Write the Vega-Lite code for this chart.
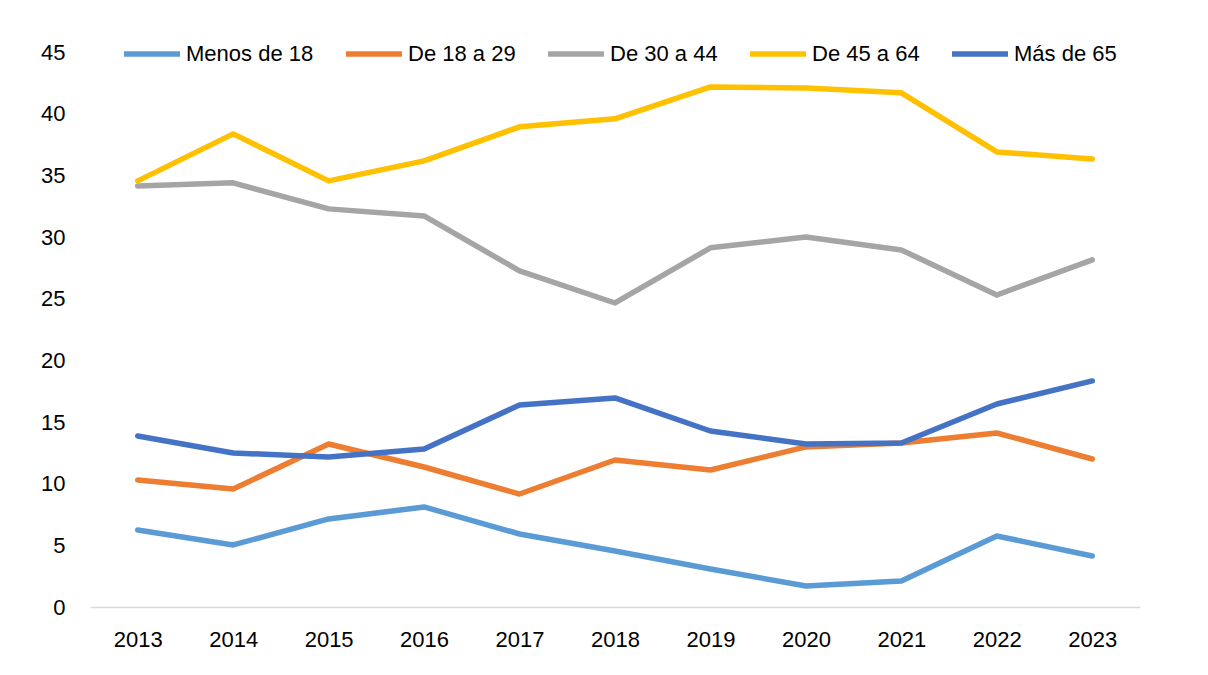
{
  "$schema": "https://vega.github.io/schema/vega-lite/v6.json",
  "autosize": {"type": "none"},
  "padding": {"left": 90, "top": 52, "right": 68, "bottom": 68},
  "width": 1050,
  "height": 555,
  "background": "white",
  "config": {
    "view": {"stroke": null},
    "font": "Liberation Sans",
    "axis": {"labelFont": "Liberation Sans", "labelColor": "#000000", "labelFontSize": 22},
    "legend": {"labelFont": "Liberation Sans", "labelColor": "#000000", "labelFontSize": 22}
  },
  "data": {
    "values": [
      {"year": "2013", "group": "Menos de 18", "value": 6.24},
      {"year": "2014", "group": "Menos de 18", "value": 5.03},
      {"year": "2015", "group": "Menos de 18", "value": 7.14},
      {"year": "2016", "group": "Menos de 18", "value": 8.11},
      {"year": "2017", "group": "Menos de 18", "value": 5.92},
      {"year": "2018", "group": "Menos de 18", "value": 4.54},
      {"year": "2019", "group": "Menos de 18", "value": 3.08},
      {"year": "2020", "group": "Menos de 18", "value": 1.7},
      {"year": "2021", "group": "Menos de 18", "value": 2.11},
      {"year": "2022", "group": "Menos de 18", "value": 5.76},
      {"year": "2023", "group": "Menos de 18", "value": 4.14},
      {"year": "2013", "group": "De 18 a 29", "value": 10.3},
      {"year": "2014", "group": "De 18 a 29", "value": 9.57},
      {"year": "2015", "group": "De 18 a 29", "value": 13.22},
      {"year": "2016", "group": "De 18 a 29", "value": 11.35},
      {"year": "2017", "group": "De 18 a 29", "value": 9.16},
      {"year": "2018", "group": "De 18 a 29", "value": 11.92},
      {"year": "2019", "group": "De 18 a 29", "value": 11.11},
      {"year": "2020", "group": "De 18 a 29", "value": 12.98},
      {"year": "2021", "group": "De 18 a 29", "value": 13.3},
      {"year": "2022", "group": "De 18 a 29", "value": 14.11},
      {"year": "2023", "group": "De 18 a 29", "value": 12.0},
      {"year": "2013", "group": "De 30 a 44", "value": 34.14},
      {"year": "2014", "group": "De 30 a 44", "value": 34.39},
      {"year": "2015", "group": "De 30 a 44", "value": 32.28},
      {"year": "2016", "group": "De 30 a 44", "value": 31.71},
      {"year": "2017", "group": "De 30 a 44", "value": 27.25},
      {"year": "2018", "group": "De 30 a 44", "value": 24.65},
      {"year": "2019", "group": "De 30 a 44", "value": 29.12},
      {"year": "2020", "group": "De 30 a 44", "value": 30.0},
      {"year": "2021", "group": "De 30 a 44", "value": 28.95},
      {"year": "2022", "group": "De 30 a 44", "value": 25.3},
      {"year": "2023", "group": "De 30 a 44", "value": 28.14},
      {"year": "2013", "group": "De 45 a 64", "value": 34.55},
      {"year": "2014", "group": "De 45 a 64", "value": 38.36},
      {"year": "2015", "group": "De 45 a 64", "value": 34.55},
      {"year": "2016", "group": "De 45 a 64", "value": 36.17},
      {"year": "2017", "group": "De 45 a 64", "value": 38.93},
      {"year": "2018", "group": "De 45 a 64", "value": 39.58},
      {"year": "2019", "group": "De 45 a 64", "value": 42.17},
      {"year": "2020", "group": "De 45 a 64", "value": 42.09},
      {"year": "2021", "group": "De 45 a 64", "value": 41.69},
      {"year": "2022", "group": "De 45 a 64", "value": 36.9},
      {"year": "2023", "group": "De 45 a 64", "value": 36.33},
      {"year": "2013", "group": "Más de 65", "value": 13.87},
      {"year": "2014", "group": "Más de 65", "value": 12.49},
      {"year": "2015", "group": "Más de 65", "value": 12.17},
      {"year": "2016", "group": "Más de 65", "value": 12.81},
      {"year": "2017", "group": "Más de 65", "value": 16.38},
      {"year": "2018", "group": "Más de 65", "value": 16.95},
      {"year": "2019", "group": "Más de 65", "value": 14.27},
      {"year": "2020", "group": "Más de 65", "value": 13.22},
      {"year": "2021", "group": "Más de 65", "value": 13.3},
      {"year": "2022", "group": "Más de 65", "value": 16.46},
      {"year": "2023", "group": "Más de 65", "value": 18.33}
    ]
  },
  "mark": {"type": "line", "strokeWidth": 5.5, "strokeCap": "round", "strokeJoin": "round"},
  "encoding": {
    "x": {
      "field": "year",
      "type": "ordinal",
      "scale": {"type": "point", "padding": 0.5},
      "axis": {
        "title": null,
        "labelAngle": 0,
        "ticks": false,
        "domainColor": "#d9d9d9",
        "domainWidth": 1.5,
        "labelPadding": 22
      }
    },
    "y": {
      "field": "value",
      "type": "quantitative",
      "scale": {"domain": [0, 45], "nice": false},
      "axis": {
        "title": null,
        "values": [0, 5, 10, 15, 20, 25, 30, 35, 40, 45],
        "grid": false,
        "ticks": false,
        "domain": false,
        "labelPadding": 25
      }
    },
    "color": {
      "field": "group",
      "type": "nominal",
      "sort": ["Menos de 18", "De 18 a 29", "De 30 a 44", "De 45 a 64", "Más de 65"],
      "scale": {
        "domain": ["Menos de 18", "De 18 a 29", "De 30 a 44", "De 45 a 64", "Más de 65"],
        "range": ["#5B9BD5", "#ED7D31", "#A5A5A5", "#FFC000", "#4472C4"]
      },
      "legend": {
        "title": null,
        "orient": "none",
        "direction": "horizontal",
        "legendX": 31,
        "legendY": -29,
        "symbolType": "stroke",
        "symbolSize": 3136,
        "symbolStrokeWidth": 5.5,
        "labelOffset": 3,
        "columnPadding": 21,
        "labelFontSize": 22
      }
    }
  }
}
